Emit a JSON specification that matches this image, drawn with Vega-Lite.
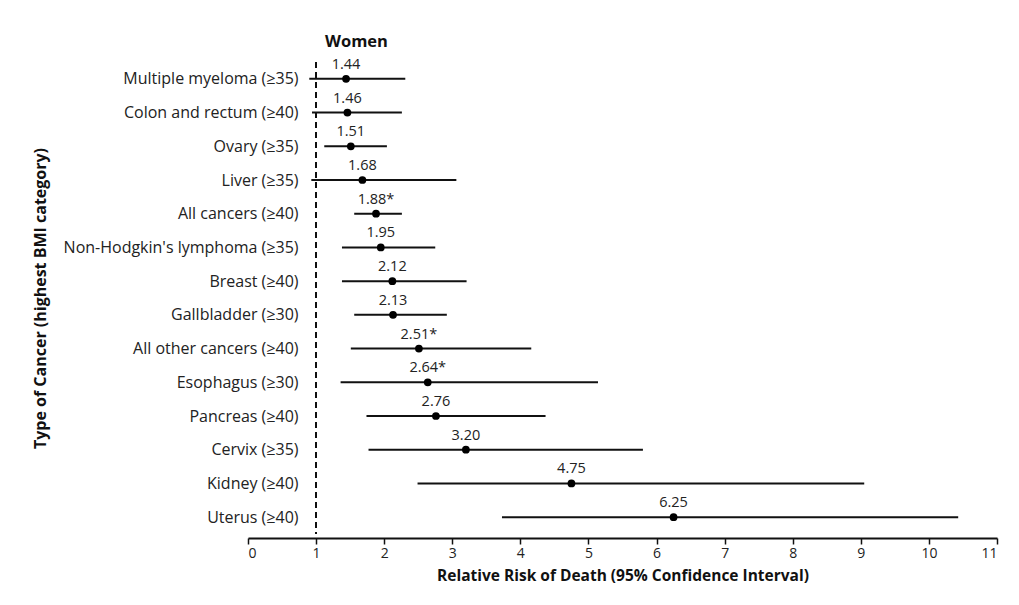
{
  "$schema": "https://vega.github.io/schema/vega-lite/v6.json",
  "width": 749,
  "height": 472,
  "autosize": {"type": "none"},
  "padding": {"left": 248, "top": 62, "right": 22, "bottom": 71},
  "background": "white",
  "title": {"text": "Women", "anchor": "start", "frame": "group", "dx": 77, "font": "Open Sans", "fontSize": 16.5, "fontWeight": "bold", "color": "#111", "offset": 6},
  "config": {"view": {"stroke": null}, "font": "Open Sans"},
  "data": {"values": [
    {"cancer": "Multiple myeloma (≥35)", "rr": 1.44, "lo": 0.90, "hi": 2.31, "label": "1.44"},
    {"cancer": "Colon and rectum (≥40)", "rr": 1.46, "lo": 0.94, "hi": 2.26, "label": "1.46"},
    {"cancer": "Ovary (≥35)", "rr": 1.51, "lo": 1.12, "hi": 2.04, "label": "1.51"},
    {"cancer": "Liver (≥35)", "rr": 1.68, "lo": 0.93, "hi": 3.06, "label": "1.68"},
    {"cancer": "All cancers (≥40)", "rr": 1.88, "lo": 1.56, "hi": 2.26, "label": "1.88*"},
    {"cancer": "Non-Hodgkin's lymphoma (≥35)", "rr": 1.95, "lo": 1.38, "hi": 2.75, "label": "1.95"},
    {"cancer": "Breast (≥40)", "rr": 2.12, "lo": 1.38, "hi": 3.21, "label": "2.12"},
    {"cancer": "Gallbladder (≥30)", "rr": 2.13, "lo": 1.56, "hi": 2.92, "label": "2.13"},
    {"cancer": "All other cancers (≥40)", "rr": 2.51, "lo": 1.51, "hi": 4.16, "label": "2.51*"},
    {"cancer": "Esophagus (≥30)", "rr": 2.64, "lo": 1.36, "hi": 5.14, "label": "2.64*"},
    {"cancer": "Pancreas (≥40)", "rr": 2.76, "lo": 1.74, "hi": 4.37, "label": "2.76"},
    {"cancer": "Cervix (≥35)", "rr": 3.20, "lo": 1.77, "hi": 5.80, "label": "3.20"},
    {"cancer": "Kidney (≥40)", "rr": 4.75, "lo": 2.49, "hi": 9.05, "label": "4.75"},
    {"cancer": "Uterus (≥40)", "rr": 6.25, "lo": 3.73, "hi": 10.43, "label": "6.25"}
  ]},
  "encoding": {
    "y": {
      "field": "cancer", "type": "nominal", "sort": null,
      "scale": {"type": "point", "padding": 0.5},
      "axis": {
        "title": "Type of Cancer (highest BMI category)",
        "titleFont": "Open Sans", "titleFontSize": 16, "titleFontWeight": "bold", "titleColor": "#111",
        "titleX": -265, "titleY": 236, "titleAngle": -90, "titleBaseline": "middle", "titleAlign": "center",
        "labelFont": "Open Sans", "labelFontSize": 16, "labelColor": "#222", "labelLimit": 400,
        "domain": false, "ticks": false, "grid": false,
        "offset": -57, "labelPadding": 7
      }
    }
  },
  "layer": [
    {
      "mark": {"type": "rule", "strokeDash": [6, 4], "strokeWidth": 1.5, "color": "#111"},
      "encoding": {"x": {"datum": 1, "type": "quantitative"}, "y": null}
    },
    {
      "mark": {"type": "rule", "strokeWidth": 2, "color": "#111"},
      "encoding": {
        "x": {
          "field": "lo", "type": "quantitative",
          "scale": {"domain": [0, 11], "nice": false, "zero": false},
          "axis": {
            "title": "Relative Risk of Death (95% Confidence Interval)",
            "titleFont": "Open Sans", "titleFontSize": 15.5, "titleFontWeight": "bold", "titleColor": "#111",
            "titlePadding": 8,
            "values": [0,1,2,3,4,5,6,7,8,9,10,11], "format": "d",
            "labelFont": "Open Sans", "labelFontSize": 14, "labelColor": "#222",
            "domainColor": "#111", "domainWidth": 2, "tickColor": "#111", "tickWidth": 1.5, "tickSize": 6,
            "grid": false, "offset": 4, "labelPadding": 2
          }
        },
        "x2": {"field": "hi"}
      }
    },
    {
      "mark": {"type": "circle", "size": 60, "color": "#000", "opacity": 1},
      "encoding": {"x": {"field": "rr", "type": "quantitative"}}
    },
    {
      "mark": {"type": "text", "dy": -14, "fontSize": 14.5, "color": "#222", "font": "Open Sans"},
      "encoding": {"x": {"field": "rr", "type": "quantitative"}, "text": {"field": "label"}}
    }
  ]
}
